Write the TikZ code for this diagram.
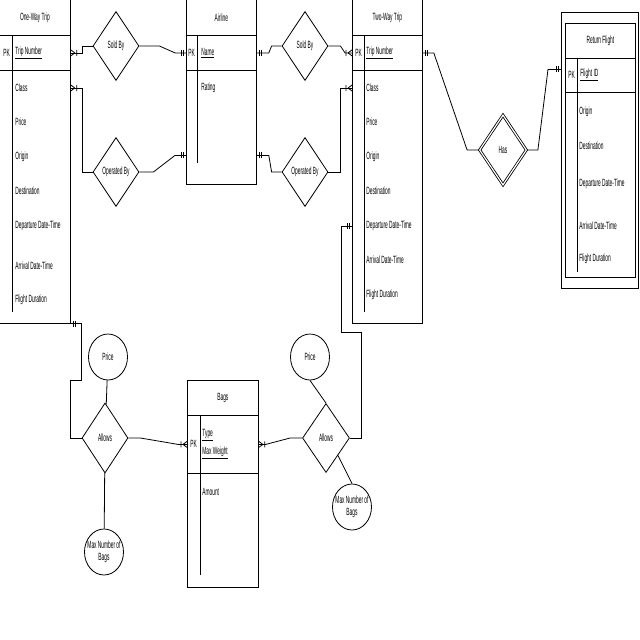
\documentclass[tikz,border=0pt]{standalone}
\usepackage{fontspec}
\setmainfont{Liberation Sans}[FakeStretch=0.46]
\usetikzlibrary{shapes.geometric, decorations.markings, calc}

\begin{document}
\begin{tikzpicture}[
    x=1pt, y=-1pt,
    line width=0.8pt,
    font=\fontsize{10.5}{12}\selectfont,
    ebox/.style={draw, anchor=north west, inner sep=0pt},
    attr/.style={anchor=west, inner sep=0pt},
    rel/.style={draw, diamond, inner sep=0pt, minimum width=46pt, minimum height=69pt},
    prop/.style={draw, ellipse, inner sep=0pt, minimum width=39pt, minimum height=46pt},
    manyend/.style={postaction={decorate, decoration={markings, mark=at position 1 with {
        \draw (-4pt,0) -- (0,3pt) (-4pt,0) -- (0,-3pt) (-6pt,3pt) -- (-6pt,-3pt);}}}},
    manystart/.style={postaction={decorate, decoration={markings, mark=at position 0 with {
        \draw (4pt,0) -- (0,3pt) (4pt,0) -- (0,-3pt) (6pt,3pt) -- (6pt,-3pt);}}}},
    oneend/.style={postaction={decorate, decoration={markings, mark=at position 1 with {
        \draw (-3pt,3pt) -- (-3pt,-3pt) (-5pt,3pt) -- (-5pt,-3pt);}}}},
    onestart/.style={postaction={decorate, decoration={markings, mark=at position 0 with {
        \draw (3pt,3pt) -- (3pt,-3pt) (5pt,3pt) -- (5pt,-3pt);}}}}
]
    \useasboundingbox (0,0) rectangle (640,640);

    % One-Way Trip
    \node[ebox, minimum width=71pt, minimum height=36pt] (owt) at (-1,-1) {One-Way Trip};
    \node[ebox, minimum width=71pt, minimum height=35pt] (owt-key) at (-1,35) {};
    \node[ebox, minimum width=71pt, minimum height=253pt] (owt-body) at (-1,70) {};
    \draw ([xshift=13pt]owt-key.north west) -- ++(0,277);
    \node[attr] (owt-pk) at (3,53) {PK};
    \node[attr] (owt-id) at (15,53) {\underline{Trip Number}};
    \foreach \t/\y [count=\i] in {Class/88, Price/122, Origin/157, Destination/191,
        Departure Date-Time/226, Arrival Date-Time/266, Flight Duration/300}
        \node[attr] (owt-a\i) at (15,\y) {\t};

    % Airline
    \node[ebox, minimum width=70pt, minimum height=36pt] (air) at (186,-1) {Airline};
    \node[ebox, minimum width=70pt, minimum height=35pt] (air-key) at (186,35) {};
    \node[ebox, minimum width=70pt, minimum height=114pt] (air-body) at (186,70) {};
    \draw ([xshift=11pt]air-key.north west) -- ++(0,128);
    \node[attr] (air-pk) at (188,53) {PK};
    \node[attr] (air-id) at (201,53) {\underline{Name}};
    \node[attr] (air-a1) at (201,88) {Rating};

    % Two-Way Trip
    \node[ebox, minimum width=70pt, minimum height=36pt] (twt) at (352,-1) {Two-Way Trip};
    \node[ebox, minimum width=70pt, minimum height=35pt] (twt-key) at (352,35) {};
    \node[ebox, minimum width=70pt, minimum height=253pt] (twt-body) at (352,70) {};
    \draw ([xshift=12pt]twt-key.north west) -- ++(0,277);
    \node[attr] (twt-pk) at (355,53) {PK};
    \node[attr] (twt-id) at (366,53) {\underline{Trip Number}};
    \foreach \t/\y [count=\i] in {Class/88, Price/122, Origin/157, Destination/191,
        Departure Date-Time/226, Arrival Date-Time/260, Flight Duration/295}
        \node[attr] (twt-a\i) at (366,\y) {\t};

    % Return Flight
    \node[ebox, minimum width=77pt, minimum height=276pt] (rf) at (561,12) {};
    \node[ebox, minimum width=70pt, minimum height=35pt] (rf-title) at (565,23) {Return Flight};
    \node[ebox, minimum width=70pt, minimum height=34pt] (rf-key) at (565,58) {};
    \node[ebox, minimum width=70pt, minimum height=185pt] (rf-body) at (565,92) {};
    \draw ([xshift=12pt]rf-key.north west) -- ++(0,214);
    \node[attr] (rf-pk) at (568,75) {PK};
    \node[attr] (rf-id) at (580,75) {\underline{Flight ID}};
    \foreach \t/\y [count=\i] in {Origin/112, Destination/146, Departure Date-Time/184,
        Arrival Date-Time/226, Flight Duration/259}
        \node[attr] (rf-a\i) at (579,\y) {\t};

    % Bags
    \node[ebox, minimum width=71pt, minimum height=35pt] (bags) at (187,380) {Bags};
    \node[ebox, minimum width=71pt, minimum height=58pt] (bags-key) at (187,415) {};
    \node[ebox, minimum width=71pt, minimum height=114pt] (bags-body) at (187,473) {};
    \draw ([xshift=13pt]bags-key.north west) -- ++(0,160);
    \node[attr] (bags-pk) at (190,444) {PK};
    \node[attr] (bags-id1) at (202,435) {\underline{Type}};
    \node[attr] (bags-id2) at (202,453) {\underline{Max Weight}};
    \node[attr] (bags-a1) at (202,492) {Amount};

    % relationships
    \node[rel] (sold1) at (116,46) {Sold By};
    \node[rel] (oper1) at (116,172) {Operated By};
    \node[rel] (sold2) at (305,46) {Sold By};
    \node[rel] (oper2) at (305,172) {Operated By};
    \node[rel, minimum height=70pt] (allow1) at (105,438) {Allows};
    \node[rel, minimum width=47pt] (allow2) at (326,438) {Allows};
    \node[rel, double, double distance=1.2pt, minimum width=47pt, minimum height=70pt] (has) at (503,150) {Has};

    % attributes of Allows
    \node[prop] (price1) at (108,357) {Price};
    \node[prop, label={[align=center]center:Max Number of\\Bags}] (max1) at (104,552) {};
    \node[prop] (price2) at (310,357) {Price};
    \node[prop, label={[align=center]center:Max Number of\\Bags}] (max2) at (352,507) {};

    % connectors
    \draw[manystart] (owt-key.east) -- ++(12,0) |- (sold1.west);
    \draw[oneend] (sold1.east) -- ++(20,0) -- ([xshift=-11pt]air-key.west) -- (air-key.west);
    \draw[manystart] (owt-body.east |- owt-a1) -- ++(12,0) |- (oper1.west);
    \draw[oneend] (oper1.east) -- ++(14,0) -- ([xshift=-11pt,yshift=-28pt]air-body.west)
        -- ([yshift=-28pt]air-body.west);
    \draw[onestart] (air-key.east) -- ++(12,0) -- ([xshift=-10pt]sold2.west) -- (sold2.west);
    \draw[manyend] (sold2.east) -- ++(12,0) -- ([xshift=-7pt]twt-key.west) -- (twt-key.west);
    \draw[onestart] ([yshift=-28pt]air-body.east) -- ++(12,0) -- ([xshift=-10pt]oper2.west)
        -- (oper2.west);
    \draw[manyend] (oper2.east) -- ++(12,0) |- (twt-body.west |- twt-a1);
    \draw[onestart] (twt-key.east) -- ++(11,0) -- ([xshift=-12pt]has.west) -- (has.west);
    \draw[oneend] (has.east) -- ++(11,0) -- ([xshift=-13pt,yshift=81pt]rf.west)
        -- ([yshift=81pt]rf.west);
    \draw[onestart] (twt-body.west |- twt-a5) -- ++(-11,0) -- ++(0,106)
        -| ([xshift=11pt]allow2.east) -- (allow2.east);
    \draw[manyend] (allow2.west) -- ++(-12,0) -- ([xshift=7pt]bags-key.east) -- (bags-key.east);
    \draw[onestart] (owt-body.south east) -- ++(11,0) -- ++(0,57) -- ++(-11,0) |- (allow1.west);
    \draw[manyend] (allow1.east) -- ++(12,0) -- ([xshift=-9pt]bags-key.west) -- (bags-key.west);
    \draw (price1) -- (allow1);
    \draw (allow1) -- (max1);
    \draw (price2.south) -- (allow2.north);
    \draw (allow2.south east) -- (max2.north);
\end{tikzpicture}
\end{document}
